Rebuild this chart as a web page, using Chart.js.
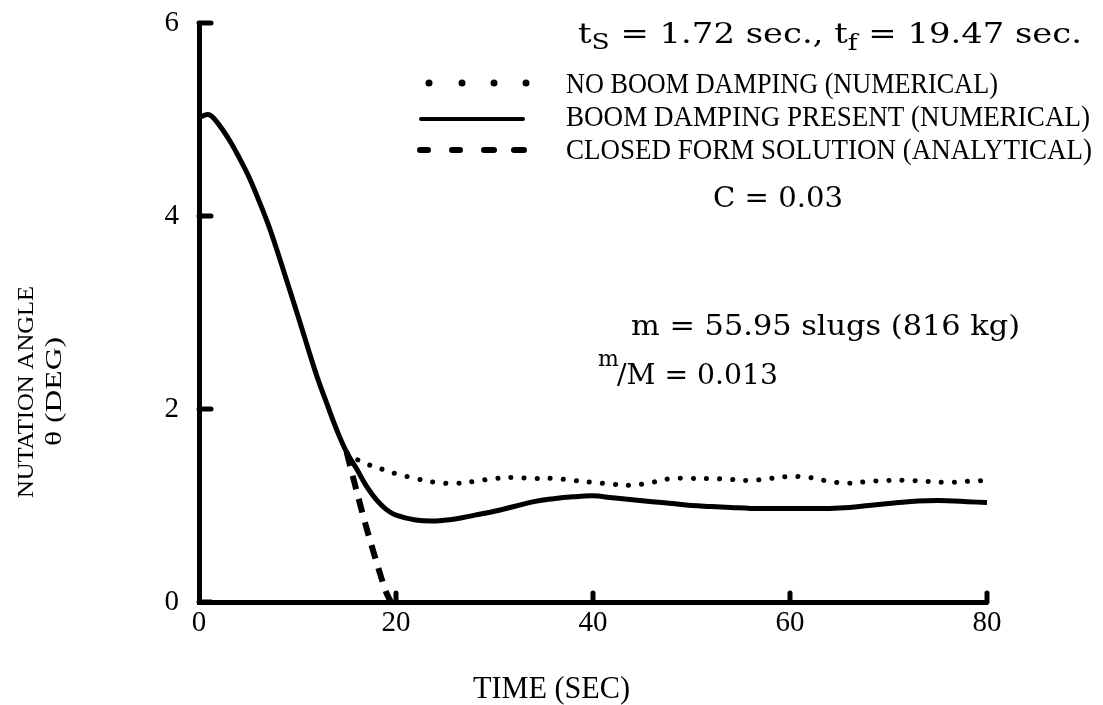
<!DOCTYPE html>
<html lang="en">
  <head>
    <meta charset="UTF-8" />
    <title>Nutation angle vs time</title>
    <script src="https://cdn.jsdelivr.net/npm/chart.js"></script>
    <style>
      body { margin: 0; background: #fff; }
      #wrap { width: 1103px; height: 705px; }
    </style>
  </head>
  <body>
    <div id="wrap"><canvas id="myChart"></canvas></div>
    <script>
      // time (sec) and nutation angle (deg)
      const dampedTime = [0, 1, 2, 3, 4, 5, 6, 7, 8, 9, 10, 11, 12, 13, 14, 15, 16, 17, 18, 19, 20, 22, 24, 26, 28, 30, 32, 34, 36, 38, 40, 42, 44, 46, 48, 50, 52, 54, 56, 58, 60, 62, 64, 66, 68, 70, 72, 74, 76, 78, 80];
      const dampedAngle = [5.02, 5.05, 4.95, 4.8, 4.62, 4.42, 4.18, 3.92, 3.62, 3.3, 2.98, 2.65, 2.33, 2.05, 1.78, 1.55, 1.38, 1.2, 1.06, 0.96, 0.9, 0.85, 0.84, 0.86, 0.9, 0.94, 0.99, 1.04, 1.07, 1.09, 1.1, 1.08, 1.06, 1.04, 1.02, 1.0, 0.99, 0.98, 0.97, 0.97, 0.97, 0.97, 0.97, 0.98, 1.0, 1.02, 1.04, 1.05, 1.05, 1.04, 1.03];

      const noDampTime = [15, 16, 17, 18, 19, 20, 22, 24, 26, 28, 30, 32, 34, 36, 38, 40, 42, 44, 46, 48, 50, 52, 54, 56, 58, 60, 62, 64, 66, 68, 70, 72, 74, 76, 78, 80];
      const noDampAngle = [1.55, 1.48, 1.43, 1.4, 1.36, 1.33, 1.28, 1.24, 1.23, 1.25, 1.28, 1.29, 1.28, 1.28, 1.26, 1.24, 1.22, 1.21, 1.24, 1.28, 1.28, 1.28, 1.27, 1.26, 1.28, 1.3, 1.29, 1.25, 1.23, 1.25, 1.26, 1.26, 1.25, 1.24, 1.25, 1.26];

      const closedTime = [15, 16, 17, 18, 19, 19.47];
      const closedAngle = [1.55, 1.15, 0.77, 0.42, 0.1, 0];

      const xTicks = [0, 20, 40, 60, 80];
      const yTicks = [0, 2, 4, 6];

      const toPoints = (xs, ys) => xs.map((x, i) => ({ x: x, y: ys[i] }));

      // draws a string squeezed/stretched to a given width (left aligned)
      function fitText(ctx, text, x, y, width, font) {
        ctx.save();
        ctx.font = font;
        ctx.textAlign = 'left';
        const w = ctx.measureText(text).width;
        ctx.translate(x, y);
        ctx.scale(width / w, 1);
        ctx.fillText(text, 0, 0);
        ctx.restore();
      }

      const annotations = {
        id: 'annotations',
        afterDraw(chart) {
          const ctx = chart.ctx;
          const xs = chart.scales.x;
          const ys = chart.scales.y;
          ctx.save();
          ctx.fillStyle = '#000';
          ctx.strokeStyle = '#000';
          ctx.lineCap = 'round';

          // inward tick stubs
          ctx.lineWidth = 5;
          yTicks.forEach((v) => {
            const py = ys.getPixelForValue(v);
            ctx.beginPath();
            ctx.moveTo(xs.left, py);
            ctx.lineTo(xs.left + 12, py);
            ctx.stroke();
          });
          xTicks.slice(1).forEach((v) => {
            const px = xs.getPixelForValue(v);
            ctx.beginPath();
            ctx.moveTo(px, ys.bottom);
            ctx.lineTo(px, ys.bottom - 9);
            ctx.stroke();
          });

          // header line with subscripts, stretched to its width in the scan
          ctx.textBaseline = 'alphabetic';
          const big = '28px "DejaVu Serif"';
          const sub = '22px "DejaVu Serif"';
          const parts = [
            ['t', big, 0], ['S', sub, 6], [' = 1.72 sec., t', big, 0], ['f', sub, 7], [' = 19.47 sec.', big, 0],
          ];
          let total = 0;
          parts.forEach(([s, f]) => { ctx.font = f; total += ctx.measureText(s).width; });
          ctx.save();
          ctx.translate(578, 0);
          ctx.scale(504 / total, 1);
          let cx = 0;
          parts.forEach(([s, f, dy]) => {
            ctx.font = f;
            ctx.fillText(s, cx, 43 + dy);
            cx += ctx.measureText(s).width;
          });
          ctx.restore();

          // legend symbols
          [429, 462, 494, 526].forEach((px) => {
            ctx.beginPath();
            ctx.arc(px, 83, 3.5, 0, Math.PI * 2);
            ctx.fill();
          });
          ctx.lineWidth = 4;
          ctx.beginPath();
          ctx.moveTo(421, 119);
          ctx.lineTo(523, 119);
          ctx.stroke();
          ctx.lineWidth = 6;
          [[420, 428], [452, 460], [484, 494], [514, 524]].forEach(([a, b]) => {
            ctx.beginPath();
            ctx.moveTo(a, 150);
            ctx.lineTo(b, 150);
            ctx.stroke();
          });

          // legend text
          const lf = '30px "Liberation Serif"';
          fitText(ctx, 'NO BOOM DAMPING (NUMERICAL)', 566, 93, 432, lf);
          fitText(ctx, 'BOOM DAMPING PRESENT (NUMERICAL)', 566, 126, 524, lf);
          fitText(ctx, 'CLOSED FORM SOLUTION (ANALYTICAL)', 566, 159, 526, lf);

          fitText(ctx, 'C = 0.03', 713, 207, 130, big);
          fitText(ctx, 'm = 55.95 slugs (816 kg)', 631, 335, 389, big);

          // m/M = 0.013
          ctx.font = '22px "DejaVu Serif"';
          ctx.fillText('m', 598, 366);
          fitText(ctx, '/M = 0.013', 617, 384, 161, big);

          // axis titles
          fitText(ctx, 'TIME (SEC)', 473, 698, 157, '32px "Liberation Serif"');
          ctx.save();
          ctx.translate(33, 392);
          ctx.rotate(-Math.PI / 2);
          fitText(ctx, 'NUTATION ANGLE', -106, 0, 212, '24px "Liberation Serif"');
          fitText(ctx, '\u03B8 (DEG)', -54, 28, 109, '24px "Liberation Serif"');
          ctx.restore();

          ctx.restore();
        },
      };

      // pin the plot frame to where it sits in the scan
      const noScalePadding = (scale) => {
        scale.paddingTop = 0;
        scale.paddingBottom = 0;
        scale.paddingLeft = 0;
        scale.paddingRight = 0;
      };

      document.addEventListener('DOMContentLoaded', function () {
        const ctx = document.getElementById('myChart').getContext('2d');

        new Chart(ctx, {
          type: 'line',
          plugins: [annotations],
          data: {
            datasets: [
              {
                label: 'NO BOOM DAMPING (NUMERICAL)',
                data: toPoints(noDampTime, noDampAngle),
                borderColor: '#000',
                borderWidth: 5,
                borderDash: [0.1, 13],
                borderCapStyle: 'round',
                tension: 0.4,
              },
              {
                label: 'BOOM DAMPING PRESENT (NUMERICAL)',
                data: toPoints(dampedTime, dampedAngle),
                borderColor: '#000',
                borderWidth: 5,
                tension: 0.4,
              },
              {
                label: 'CLOSED FORM SOLUTION (ANALYTICAL)',
                data: toPoints(closedTime, closedAngle),
                borderColor: '#000',
                borderWidth: 6,
                borderDash: [14, 10],
                tension: 0.3,
              },
            ],
          },
          options: {
            responsive: true,
            maintainAspectRatio: false,
            animation: false,
            events: [],
            layout: { padding: { left: 0, top: 23, right: 116, bottom: 0 } },
            plugins: {
              legend: { display: false },
              tooltip: { enabled: false },
            },
            elements: {
              point: { pointStyle: false },
            },
            scales: {
              x: {
                type: 'linear',
                min: 0,
                max: 80,
                afterFit: (scale) => { scale.height = 103; noScalePadding(scale); },
                afterBuildTicks: (scale) => { scale.ticks = xTicks.map((v) => ({ value: v })); },
                ticks: {
                  color: '#000',
                  padding: 4,
                  font: { family: 'Liberation Serif', size: 29 },
                },
                grid: { display: true, drawOnChartArea: false, drawTicks: false },
                border: { display: true, color: '#000', width: 5 },
              },
              y: {
                min: 0,
                max: 6,
                afterFit: (scale) => { scale.width = 199; noScalePadding(scale); },
                afterBuildTicks: (scale) => { scale.ticks = yTicks.map((v) => ({ value: v })); },
                ticks: {
                  color: '#000',
                  padding: 20,
                  font: { family: 'Liberation Serif', size: 29 },
                },
                grid: { display: true, drawOnChartArea: false, drawTicks: false },
                border: { display: true, color: '#000', width: 5 },
              },
            },
          },
        });
      });
    </script>
  </body>
</html>
